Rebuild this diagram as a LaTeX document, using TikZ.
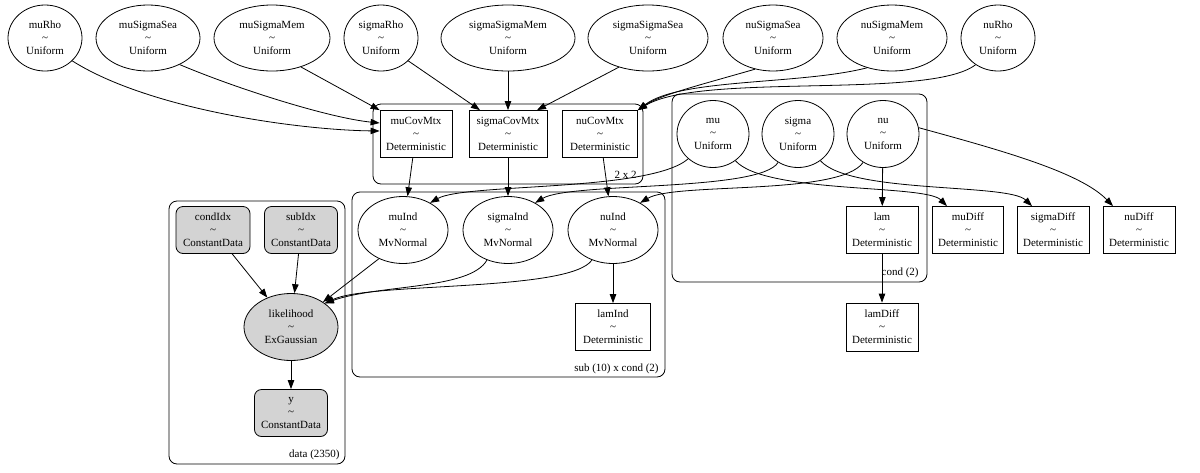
\documentclass[tikz,border=0pt]{standalone}
\usepackage{fontspec}
\setmainfont{Liberation Serif}
\usetikzlibrary{shapes.geometric,arrows.meta,calc}
\newcommand{\nlab}[2]{#1\\\textasciitilde\\#2}
\definecolor{obsgray}{HTML}{D3D3D3}
\begin{document}
\begin{tikzpicture}[x=1pt,y=-1pt,
  every node/.style={font=\fontsize{11}{13}\selectfont, align=center, inner sep=0pt, line width=0.8pt},
  rv/.style={ellipse, draw, minimum height=66pt},
  detbox/.style={rectangle, draw, minimum height=47pt},
  obsbox/.style={rectangle, draw, rounded corners=7pt, fill=obsgray, minimum height=47pt},
  obsrv/.style={ellipse, draw, fill=obsgray, minimum height=67pt},
  plate/.style={draw, rounded corners=8pt, line width=0.8pt},
  platelabel/.style={anchor=east, font=\fontsize{11}{13}\selectfont},
  edge/.style={draw, line width=0.8pt, -{Triangle[length=9pt,width=6.5pt]}}
]
\useasboundingbox (0,0) rectangle (1200,472);

% plates
\draw[plate] (373,104) rectangle (643,184);
\node[platelabel] (lp1) at (637,175) {2 x 2};
\draw[plate] (352,192) rectangle (665,377);
\node[platelabel] (lp2) at (659,369) {sub (10) x cond (2)};
\draw[plate] (169,201) rectangle (345,464);
\node[platelabel] (lp3) at (340,455) {data (2350)};
\draw[plate] (672,94) rectangle (927,282);
\node[platelabel] (lp4) at (919,273) {cond (2)};

% top priors
\node[rv, minimum width=74pt] (muRho) at (45,38) {\nlab{muRho}{Uniform}};
\node[rv, minimum width=104pt] (muSigmaSea) at (148,38) {\nlab{muSigmaSea}{Uniform}};
\node[rv, minimum width=116pt] (muSigmaMem) at (272,38) {\nlab{muSigmaMem}{Uniform}};
\node[rv, minimum width=74pt] (sigmaRho) at (381,38) {\nlab{sigmaRho}{Uniform}};
\node[rv, minimum width=134pt] (sigmaSigmaMem) at (508,38) {\nlab{sigmaSigmaMem}{Uniform}};
\node[rv, minimum width=120pt] (sigmaSigmaSea) at (648,38) {\nlab{sigmaSigmaSea}{Uniform}};
\node[rv, minimum width=100pt] (nuSigmaSea) at (773,38) {\nlab{nuSigmaSea}{Uniform}};
\node[rv, minimum width=110pt] (nuSigmaMem) at (892,38) {\nlab{nuSigmaMem}{Uniform}};
\node[rv, minimum width=74pt] (nuRho) at (998,38) {\nlab{nuRho}{Uniform}};

% cov matrices
\node[detbox, minimum width=72pt] (muCovMtx) at (416,134) {\nlab{muCovMtx}{Deterministic}};
\node[detbox, minimum width=78pt] (sigmaCovMtx) at (508,134) {\nlab{sigmaCovMtx}{Deterministic}};
\node[detbox, minimum width=75pt] (nuCovMtx) at (600,134) {\nlab{nuCovMtx}{Deterministic}};

% individual
\node[rv, minimum width=90pt, minimum height=67pt] (muInd) at (403,230) {\nlab{muInd}{MvNormal}};
\node[rv, minimum width=90pt, minimum height=67pt] (sigmaInd) at (508,230) {\nlab{sigmaInd}{MvNormal}};
\node[rv, minimum width=90pt, minimum height=67pt] (nuInd) at (613,230) {\nlab{nuInd}{MvNormal}};
\node[detbox, minimum width=75pt] (lamInd) at (613,327) {\nlab{lamInd}{Deterministic}};

% data
\node[obsbox, minimum width=74pt] (condIdx) at (213,230) {\nlab{condIdx}{ConstantData}};
\node[obsbox, minimum width=73pt] (subIdx) at (301,230) {\nlab{subIdx}{ConstantData}};
\node[obsrv, minimum width=94pt] (likelihood) at (291,327) {\nlab{likelihood}{ExGaussian}};
\node[obsbox, minimum width=73pt] (y) at (291,413) {\nlab{y}{ConstantData}};

% cond
\node[rv, minimum width=72pt, minimum height=67pt] (mu) at (713,134) {\nlab{mu}{Uniform}};
\node[rv, minimum width=72pt, minimum height=67pt] (sigma) at (798,134) {\nlab{sigma}{Uniform}};
\node[rv, minimum width=72pt, minimum height=67pt] (nu) at (883,134) {\nlab{nu}{Uniform}};
\node[detbox, minimum width=72pt] (lam) at (882,230) {\nlab{lam}{Deterministic}};
\node[detbox, minimum width=71pt] (muDiff) at (968,230) {\nlab{muDiff}{Deterministic}};
\node[detbox, minimum width=72pt] (sigmaDiff) at (1053,230) {\nlab{sigmaDiff}{Deterministic}};
\node[detbox, minimum width=72pt] (nuDiff) at (1139,230) {\nlab{nuDiff}{Deterministic}};
\node[detbox, minimum width=72pt, minimum height=48pt] (lamDiff) at (882,327) {\nlab{lamDiff}{Deterministic}};

% edges: priors -> cov
\path[edge] (muRho.-40) .. controls (150,110) and (300,130) .. ([yshift=3pt]muCovMtx.west);
\path[edge] (muSigmaSea.-40) .. controls (240,90) and (330,118) .. ([yshift=11pt]muCovMtx.west);
\path[edge] (muSigmaMem.-45) -- (muCovMtx.north west);
\path[edge] (sigmaRho.-40) -- ([xshift=-28pt]sigmaCovMtx.north);
\path[edge] (sigmaSigmaMem) -- (sigmaCovMtx);
\path[edge] (sigmaSigmaSea.-135) -- ([xshift=29pt]sigmaCovMtx.north);
\path[edge] (nuSigmaSea.-120) .. controls (700,85) and (660,95) .. (nuCovMtx.north east);
\path[edge] (nuSigmaMem.-130) .. controls (800,85) and (680,78) .. (nuCovMtx.north east);
\path[edge] (nuRho.-130) .. controls (930,100) and (700,72) .. (nuCovMtx.north east);

% cov -> ind
\path[edge] (muCovMtx) -- (muInd);
\path[edge] (sigmaCovMtx) -- (sigmaInd);
\path[edge] (nuCovMtx) -- (nuInd);

% cond -> ind
\path[edge] (mu.-135) .. controls (650,192) and (465,183) .. (muInd.45);
\path[edge] (sigma.-125) .. controls (760,192) and (570,182) .. (sigmaInd.45);
\path[edge] (nu.-125) .. controls (840,196) and (675,182) .. (nuInd.45);

% cond -> diffs
\path[edge] (mu.-50) .. controls (765,194) and (925,184) .. ([xshift=-21pt]muDiff.north);
\path[edge] (sigma.-50) .. controls (850,194) and (1008,183) .. ([xshift=-21pt]sigmaDiff.north);
\path[edge] (nu.10) .. controls (1000,150) and (1080,172) .. ([xshift=-26pt]nuDiff.north);
\path[edge] (nu) -- (lam);
\path[edge] (lam) -- (lamDiff);
\path[edge] (nuInd) -- (lamInd);

% ind -> likelihood
\path[edge] (muInd.-130) -- (likelihood.38);
\path[edge] (sigmaInd.-125) .. controls (470,290) and (380,284) .. (likelihood.35);
\path[edge] (nuInd.-125) .. controls (570,292) and (370,282) .. (likelihood.35);
\path[edge] (condIdx) -- (likelihood);
\path[edge] (subIdx) -- (likelihood);
\path[edge] (likelihood) -- (y);
\end{tikzpicture}
\end{document}
